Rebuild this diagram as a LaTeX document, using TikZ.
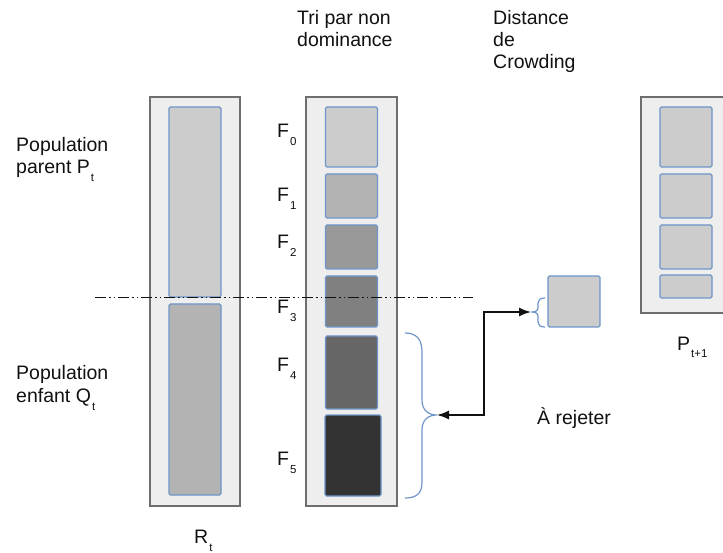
\documentclass[tikz,border=0pt]{standalone}
\usepackage{fontspec}
\setmainfont{Liberation Sans}
\usetikzlibrary{arrows.meta}
\definecolor{framec}{HTML}{6E6E6E}
\definecolor{colbg}{HTML}{EEEEEE}
\definecolor{bluec}{HTML}{6F96C8}
\definecolor{g0}{HTML}{CCCCCC}
\definecolor{g1}{HTML}{B3B3B3}
\definecolor{g2}{HTML}{999999}
\definecolor{g3}{HTML}{808080}
\definecolor{g4}{HTML}{666666}
\definecolor{g5}{HTML}{333333}
\definecolor{txt}{HTML}{111111}
\newcommand\sbx[1]{\kern1pt\raisebox{-8pt}{\fontsize{11.5}{12}\selectfont #1}}
\begin{document}
\begin{tikzpicture}[x=1pt,y=-1pt,
  lbl/.style={anchor=base west, inner sep=0pt, text=txt, font=\fontsize{19.5}{22}\selectfont},
  column/.style={draw=framec, fill=colbg, line width=1.5pt, inner sep=0pt},
  cell/.style={draw=bluec, line width=1.2pt, rounded corners=1.5pt, inner sep=0pt, minimum width=52pt},
  brace/.style={draw=bluec, line width=1.2pt},
  conn/.style={draw=txt, line width=1.4pt, {Latex[length=12pt,width=9pt]}-{Latex[length=12pt,width=9pt]}},
]
\useasboundingbox (0,0) rectangle (723,553);
\clip (0,0) rectangle (723,553);
\fill[white] (0,0) rectangle (723,553);

% columns
\node[column, minimum width=90pt, minimum height=409pt] (rt) at (195,301.5) {};
\node[column, minimum width=91pt, minimum height=409pt] (fc) at (351.5,301.5) {};
\node[column, minimum width=100pt, minimum height=216pt] (pc) at (691,205) {};

% R_t cells
\node[cell, fill=g0, minimum height=190pt] (rtop) at (195,202) {};
\node[cell, fill=g1, minimum height=191pt] (rbot) at (195,399.5) {};

% fronts
\node[cell, fill=g0, minimum height=60pt] (f0) at (351.5,137) {};
\node[cell, fill=g1, minimum height=44pt] (f1) at (351.5,196) {};
\node[cell, fill=g2, minimum height=44pt] (f2) at (351.5,247) {};
\node[cell, fill=g3, minimum height=51pt] (f3) at (351.5,301.5) {};
\node[cell, fill=g4, minimum height=73pt] (f4) at (351.5,372.5) {};
\node[cell, fill=g5, minimum height=81pt, minimum width=56pt] (f5) at (353,455.5) {};

% crowding box
\node[cell, fill=g0, minimum height=51pt] (cb) at (574,301.5) {};

% P_{t+1} cells
\node[cell, fill=g0, minimum height=60pt] (p0) at (686,137) {};
\node[cell, fill=g0, minimum height=44pt] (p1) at (686,196) {};
\node[cell, fill=g0, minimum height=44pt] (p2) at (686,247) {};
\node[cell, fill=g0, minimum height=23pt] (p3) at (686,286.5) {};

% dash-dot line
\coordinate (dl) at (95,298);
\coordinate (dr) at (473,298);
\draw[txt, line width=1pt, dash pattern=on 11pt off 3pt on 1.5pt off 3pt on 1.5pt off 3pt] (dl) -- (dr);

% big brace
\coordinate (bigtip) at (437,415);
\draw[brace] (405,333) .. controls (417,333) and (422,340) .. (422,352) -- (422,400)
  .. controls (422,410) and (428,415) .. (bigtip)
  .. controls (428,415) and (422,420) .. (422,430) -- (422,482)
  .. controls (422,493) and (417,498) .. (405,498);

% small brace
\coordinate (smalltip) at (531,312);
\draw[brace] (545,298) .. controls (540,298) and (538,300) .. (538,303) -- (538,308)
  .. controls (538,311) and (535,312) .. (smalltip)
  .. controls (535,312) and (538,313) .. (538,316) -- (538,322)
  .. controls (538,325) and (540,327) .. (545,327);

% connector
\draw[conn] (bigtip) -- (484,415) |- (smalltip);

% labels
\node[lbl] (t1) at (16,152) {Population};
\node[lbl] (t2) at (16,174) {parent P\sbx{t}};
\node[lbl] (t3) at (16,379) {Population};
\node[lbl] (t4) at (16,402) {enfant Q\sbx{t}};
\node[lbl] (t5) at (297,25) {Tri par non};
\node[lbl] (t6) at (297,47) {dominance};
\node[lbl] (t7) at (493,25) {Distance};
\node[lbl] (t8) at (493,47) {de};
\node[lbl] (t9) at (493,69) {Crowding};
\node[lbl] (t10) at (537,424) {À rejeter};
\node[lbl] (t11) at (194,543) {R\sbx{t}};
\node[lbl] (t12) at (677,350) {P\sbx{t+1}};

\node[lbl] (l0) at (277,138) {F\sbx{0}};
\node[lbl] (l1) at (277,202) {F\sbx{1}};
\node[lbl] (l2) at (277,249) {F\sbx{2}};
\node[lbl] (l3) at (277,314) {F\sbx{3}};
\node[lbl] (l4) at (277,371) {F\sbx{4}};
\node[lbl] (l5) at (277,465) {F\sbx{5}};
\end{tikzpicture}
\end{document}
